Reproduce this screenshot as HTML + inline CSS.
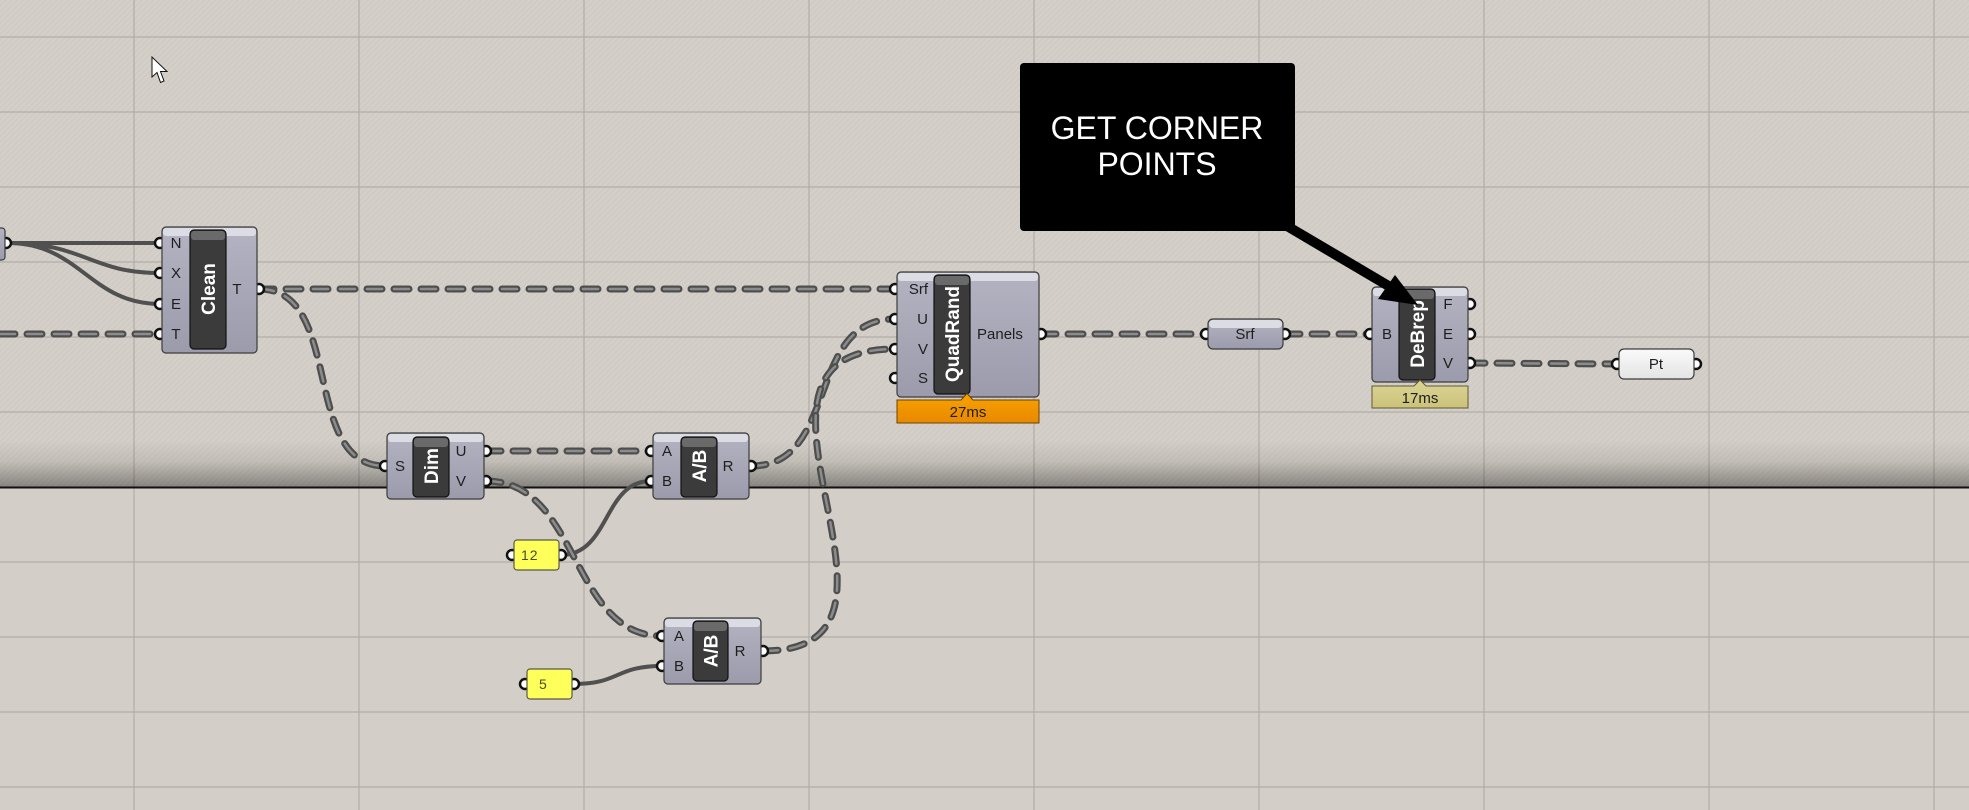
<!DOCTYPE html>
<html><head><meta charset="utf-8">
<style>
html,body{margin:0;padding:0;background:#d3cec7;}
svg{display:block;}
text{font-family:"Liberation Sans",Arial,sans-serif;}
.lbl{font-size:15px;fill:#1e1e1e;}
.ttl{font-size:19px;font-weight:bold;fill:#ffffff;}
.out{fill:none;stroke:#4e4e4e;stroke-width:7;stroke-dasharray:15 12;stroke-linecap:round;}
.inn{fill:none;stroke:#8c8c8c;stroke-width:2.5;stroke-dasharray:15 12;stroke-linecap:round;}
.sol{fill:none;stroke:#505050;stroke-width:4;stroke-linecap:round;}
.port{fill:#ffffff;stroke:#111;stroke-width:2.5;}
.body{fill:url(#bodyG);stroke:#3c3c3c;stroke-width:1.2;}
.hl{fill:#dcdce5;}
.bar{fill:#3b3b3b;stroke:#111;stroke-width:1.2;}
.barhl{fill:#6a6a6a;}
</style></head>
<body>
<svg width="1969" height="810" viewBox="0 0 1969 810" xmlns="http://www.w3.org/2000/svg">
<defs>
  <pattern id="hatch" width="4" height="4" patternUnits="userSpaceOnUse" patternTransform="rotate(45)">
    <rect width="4" height="4" fill="#d4cfc8"/>
    <line x1="0" y1="0" x2="0" y2="4" stroke="#cbc6bf" stroke-width="1.5"/>
  </pattern>
  <linearGradient id="shadeG" x1="0" y1="0" x2="0" y2="1">
    <stop offset="0" stop-color="#000" stop-opacity="0"/>
    <stop offset="0.45" stop-color="#000" stop-opacity="0.08"/>
    <stop offset="1" stop-color="#000" stop-opacity="0.36"/>
  </linearGradient>
  <linearGradient id="bodyG" x1="0" y1="0" x2="0" y2="1">
    <stop offset="0" stop-color="#b3b3c2"/>
    <stop offset="1" stop-color="#9b9bab"/>
  </linearGradient>
  <linearGradient id="ptG" x1="0" y1="0" x2="0" y2="1">
    <stop offset="0" stop-color="#fafafa"/>
    <stop offset="1" stop-color="#e4e4e4"/>
  </linearGradient>
  <linearGradient id="orG" x1="0" y1="0" x2="0" y2="1">
    <stop offset="0" stop-color="#f8a300"/>
    <stop offset="1" stop-color="#e88800"/>
  </linearGradient>
  <linearGradient id="khG" x1="0" y1="0" x2="0" y2="1">
    <stop offset="0" stop-color="#ddd596"/>
    <stop offset="1" stop-color="#cbc27a"/>
  </linearGradient>
</defs>

<!-- background -->
<rect x="0" y="0" width="1969" height="488" fill="url(#hatch)"/>
<rect x="0" y="488" width="1969" height="322" fill="#d3cec7"/>
<!-- grid -->
<g stroke="#b2ada6" stroke-width="1.2">
  <line x1="0" y1="37" x2="1969" y2="37"/>
  <line x1="0" y1="112" x2="1969" y2="112"/>
  <line x1="0" y1="187" x2="1969" y2="187"/>
  <line x1="0" y1="262" x2="1969" y2="262"/>
  <line x1="0" y1="337" x2="1969" y2="337"/>
  <line x1="0" y1="412" x2="1969" y2="412"/>
  <line x1="0" y1="562" x2="1969" y2="562"/>
  <line x1="0" y1="637" x2="1969" y2="637"/>
  <line x1="0" y1="712" x2="1969" y2="712"/>
  <line x1="0" y1="787" x2="1969" y2="787"/>
  <line x1="134" y1="0" x2="134" y2="810"/>
  <line x1="359" y1="0" x2="359" y2="810"/>
  <line x1="584" y1="0" x2="584" y2="810"/>
  <line x1="809" y1="0" x2="809" y2="810"/>
  <line x1="1034" y1="0" x2="1034" y2="810"/>
  <line x1="1259" y1="0" x2="1259" y2="810"/>
  <line x1="1484" y1="0" x2="1484" y2="810"/>
  <line x1="1709" y1="0" x2="1709" y2="810"/>
  <line x1="1934" y1="0" x2="1934" y2="810"/>
</g>
<!-- shadow band -->
<rect x="0" y="440" width="1969" height="47" fill="url(#shadeG)"/>
<rect x="0" y="486.5" width="1969" height="2" fill="#111"/>

<!-- cursor -->
<path d="M152,57 L152,77 L157,72.5 L160.5,82.5 L164,81 L160.5,71.5 L167,71.5 Z" fill="#fff" stroke="#111" stroke-width="1"/>

<!-- wires: solid -->
<path class="sol" d="M8,243 L160,243"/>
<path class="sol" d="M8,243 C 85,243 90,273 160,273"/>
<path class="sol" d="M8,243 C 80,243 90,304 160,304"/>
<path class="sol" d="M561,555 C 610,555 603,481 651,481"/>
<path class="sol" d="M574,684 C 620,684 615,666 662,666"/>

<!-- wires: dashed -->
<g>
  <path class="out" d="M0,334 L160,334"/><path class="inn" d="M0,334 L160,334"/>
  <path class="out" d="M259,289 L895,289"/><path class="inn" d="M259,289 L895,289"/>
  <path class="out" d="M259,289 C 345,289 300,466 385,466"/><path class="inn" d="M259,289 C 345,289 300,466 385,466"/>
  <path class="out" d="M486,451 L651,451"/><path class="inn" d="M486,451 L651,451"/>
  <path class="out" d="M486,481 C 580,481 570,636 662,636"/><path class="inn" d="M486,481 C 580,481 570,636 662,636"/>
  <path class="out" d="M751,466 C 840,466 805,319 895,319"/><path class="inn" d="M751,466 C 840,466 805,319 895,319"/>
  <path class="out" d="M763,651 C 950,651 700,349 895,349"/><path class="inn" d="M763,651 C 950,651 700,349 895,349"/>
  <path class="out" d="M1041,334 L1206,334"/><path class="inn" d="M1041,334 L1206,334"/>
  <path class="out" d="M1285,334 L1370,334"/><path class="inn" d="M1285,334 L1370,334"/>
  <path class="out" d="M1470,363 L1617,364"/><path class="inn" d="M1470,363 L1617,364"/>
</g>

<!-- left partial node -->
<circle class="port" cx="6" cy="243" r="5"/>
<rect class="body" x="-10" y="228" width="15" height="32" rx="3"/>

<!-- Clean -->
<g>
  <circle class="port" cx="160" cy="243" r="5"/>
  <circle class="port" cx="160" cy="273" r="5"/>
  <circle class="port" cx="160" cy="304" r="5"/>
  <circle class="port" cx="160" cy="334" r="5"/>
  <circle class="port" cx="259" cy="289" r="5"/>
  <rect class="body" x="162" y="227" width="95" height="126" rx="4"/>
  <rect class="hl" x="163" y="228" width="93" height="8" rx="3"/>
  <rect class="bar" x="190" y="230" width="36" height="119" rx="4"/>
  <rect class="barhl" x="191" y="231" width="34" height="9" rx="3"/>
  <text class="ttl" transform="translate(208,289) rotate(-90)" text-anchor="middle" dy="7">Clean</text>
  <text class="lbl" x="176" y="248" text-anchor="middle">N</text>
  <text class="lbl" x="176" y="278" text-anchor="middle">X</text>
  <text class="lbl" x="176" y="309" text-anchor="middle">E</text>
  <text class="lbl" x="176" y="339" text-anchor="middle">T</text>
  <text class="lbl" x="237" y="294" text-anchor="middle">T</text>
</g>

<!-- Dim -->
<g>
  <circle class="port" cx="385" cy="466" r="5"/>
  <circle class="port" cx="486" cy="451" r="5"/>
  <circle class="port" cx="486" cy="481" r="5"/>
  <rect class="body" x="387" y="433" width="97" height="66" rx="4"/>
  <rect class="hl" x="388" y="434" width="95" height="8" rx="3"/>
  <rect class="bar" x="413" y="437" width="36" height="60" rx="4"/>
  <rect class="barhl" x="414" y="438" width="34" height="9" rx="3"/>
  <text class="ttl" transform="translate(431,466) rotate(-90)" text-anchor="middle" dy="7">Dim</text>
  <text class="lbl" x="400" y="471" text-anchor="middle">S</text>
  <text class="lbl" x="461" y="456" text-anchor="middle">U</text>
  <text class="lbl" x="461" y="486" text-anchor="middle">V</text>
</g>

<!-- A/B top -->
<g>
  <circle class="port" cx="651" cy="451" r="5"/>
  <circle class="port" cx="651" cy="481" r="5"/>
  <circle class="port" cx="751" cy="466" r="5"/>
  <rect class="body" x="653" y="433" width="96" height="66" rx="4"/>
  <rect class="hl" x="654" y="434" width="94" height="8" rx="3"/>
  <rect class="bar" x="681" y="437" width="36" height="60" rx="4"/>
  <rect class="barhl" x="682" y="438" width="34" height="9" rx="3"/>
  <text class="ttl" transform="translate(699,466) rotate(-90)" text-anchor="middle" dy="7">A/B</text>
  <text class="lbl" x="667" y="456" text-anchor="middle">A</text>
  <text class="lbl" x="667" y="486" text-anchor="middle">B</text>
  <text class="lbl" x="728" y="471" text-anchor="middle">R</text>
</g>

<!-- A/B bottom -->
<g>
  <circle class="port" cx="662" cy="636" r="5"/>
  <circle class="port" cx="662" cy="666" r="5"/>
  <circle class="port" cx="763" cy="651" r="5"/>
  <rect class="body" x="664" y="618" width="97" height="66" rx="4"/>
  <rect class="hl" x="665" y="619" width="95" height="8" rx="3"/>
  <rect class="bar" x="693" y="621" width="35" height="60" rx="4"/>
  <rect class="barhl" x="694" y="622" width="33" height="9" rx="3"/>
  <text class="ttl" transform="translate(710.5,651) rotate(-90)" text-anchor="middle" dy="7">A/B</text>
  <text class="lbl" x="679" y="641" text-anchor="middle">A</text>
  <text class="lbl" x="679" y="671" text-anchor="middle">B</text>
  <text class="lbl" x="740" y="656" text-anchor="middle">R</text>
</g>

<!-- panel 12 -->
<g>
  <circle class="port" cx="512" cy="555" r="5"/>
  <circle class="port" cx="561" cy="555" r="5"/>
  <rect x="514" y="540" width="45" height="30" rx="3" fill="#ffff5c" stroke="#5a5a40" stroke-width="1.2"/>
  <text x="521" y="560" font-size="14" fill="#4b4b1e" letter-spacing="1">12</text>
</g>
<!-- panel 5 -->
<g>
  <circle class="port" cx="525" cy="684" r="5"/>
  <circle class="port" cx="574" cy="684" r="5"/>
  <rect x="527" y="669" width="45" height="30" rx="3" fill="#ffff5c" stroke="#5a5a40" stroke-width="1.2"/>
  <text x="539" y="689" font-size="14" fill="#4b4b1e">5</text>
</g>

<!-- QuadRand -->
<g>
  <circle class="port" cx="895" cy="289" r="5"/>
  <circle class="port" cx="895" cy="319" r="5"/>
  <circle class="port" cx="895" cy="349" r="5"/>
  <circle class="port" cx="895" cy="378" r="5"/>
  <circle class="port" cx="1041" cy="334" r="5"/>
  <rect class="body" x="897" y="272" width="142" height="125" rx="4"/>
  <rect class="hl" x="898" y="273" width="140" height="8" rx="3"/>
  <rect class="bar" x="934" y="275" width="36" height="119" rx="4"/>
  <rect class="barhl" x="935" y="276" width="34" height="9" rx="3"/>
  <text class="ttl" transform="translate(952,334) rotate(-90)" text-anchor="middle" dy="7">QuadRand</text>
  <text class="lbl" x="928" y="294" text-anchor="end">Srf</text>
  <text class="lbl" x="928" y="324" text-anchor="end">U</text>
  <text class="lbl" x="928" y="354" text-anchor="end">V</text>
  <text class="lbl" x="928" y="383" text-anchor="end">S</text>
  <text class="lbl" x="977" y="339">Panels</text>
  <path d="M897,400 L961,400 L967,393.5 L973,400 L1039,400 L1039,423 L897,423 Z" fill="url(#orG)" stroke="#6b4300" stroke-width="1"/>
  <text x="968" y="417" font-size="15" fill="#1e1e1e" text-anchor="middle">27ms</text>
</g>

<!-- Srf param -->
<g>
  <circle class="port" cx="1206" cy="334" r="5"/>
  <circle class="port" cx="1285" cy="334" r="5"/>
  <rect class="body" x="1208" y="319" width="75" height="30" rx="5"/>
  <rect class="hl" x="1209" y="320" width="73" height="8" rx="4"/>
  <text class="lbl" x="1245" y="339" text-anchor="middle">Srf</text>
</g>

<!-- DeBrep -->
<g>
  <circle class="port" cx="1370" cy="334" r="5"/>
  <circle class="port" cx="1470" cy="304" r="5"/>
  <circle class="port" cx="1470" cy="334" r="5"/>
  <circle class="port" cx="1470" cy="363" r="5"/>
  <rect class="body" x="1372" y="287" width="96" height="95" rx="4"/>
  <rect class="hl" x="1373" y="288" width="94" height="8" rx="3"/>
  <rect class="bar" x="1399" y="289" width="36" height="91" rx="4"/>
  <rect class="barhl" x="1400" y="290" width="34" height="9" rx="3"/>
  <text class="ttl" transform="translate(1417,334) rotate(-90)" text-anchor="middle" dy="7">DeBrep</text>
  <text class="lbl" x="1387" y="339" text-anchor="middle">B</text>
  <text class="lbl" x="1448" y="309" text-anchor="middle">F</text>
  <text class="lbl" x="1448" y="339" text-anchor="middle">E</text>
  <text class="lbl" x="1448" y="368" text-anchor="middle">V</text>
  <path d="M1372,386 L1414,386 L1420,380 L1426,386 L1468,386 L1468,408 L1372,408 Z" fill="url(#khG)" stroke="#5e5a35" stroke-width="1"/>
  <text x="1420" y="403" font-size="15" fill="#1e1e1e" text-anchor="middle">17ms</text>
</g>

<!-- Pt param -->
<g>
  <circle class="port" cx="1617" cy="364" r="5"/>
  <circle class="port" cx="1696" cy="364" r="5"/>
  <rect x="1619" y="349" width="75" height="30" rx="5" fill="url(#ptG)" stroke="#3c3c3c" stroke-width="1.2"/>
  <text class="lbl" x="1656" y="369" text-anchor="middle">Pt</text>
</g>

<!-- callout -->
<rect x="1020" y="63" width="275" height="168" rx="4" fill="#000"/>
<text x="1157" y="139" font-size="32" fill="#fff" text-anchor="middle">GET CORNER</text>
<text x="1157" y="175" font-size="32" fill="#fff" text-anchor="middle">POINTS</text>
<!-- arrow -->
<line x1="1287" y1="226" x2="1392" y2="288" stroke="#000" stroke-width="10"/>
<polygon points="1395,275 1378,299 1418,305" fill="#000"/>
</svg>
</body></html>
